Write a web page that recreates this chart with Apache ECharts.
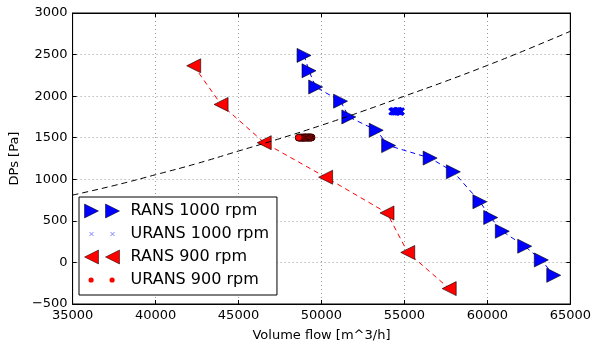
<!DOCTYPE html>
<html>
<head>
<meta charset="utf-8">
<script src="https://cdn.jsdelivr.net/npm/echarts@6/dist/echarts.min.js"></script>
<style>html,body{margin:0;padding:0;background:#fff}#c{width:594px;height:347px}</style>
</head>
<body>
<div id="c"></div>
<script>
// ---- data ----
var xTicks = [35000, 40000, 45000, 50000, 55000, 60000, 65000];
var yTicks = [-500, 0, 500, 1000, 1500, 2000, 2500, 3000];

var seriesNames = ['RANS 1000 rpm', 'URANS 1000 rpm', 'RANS 900 rpm', 'URANS 900 rpm'];

var rans1000Flow = [48950, 49250, 49650, 51150, 51650, 53300, 54050, 56550, 57950, 59550, 60200, 60900, 62250, 63250, 64000];
var rans1000Dp   = [2490, 2305, 2110, 1940, 1750, 1590, 1405, 1255, 1090, 730, 540, 375, 195, 30, -155];

var urans1000Flow = [54250, 54300, 54340, 54380, 54420, 54460, 54500, 54540, 54580, 54620, 54660, 54700, 54740, 54780, 54800];
var urans1000Dp   = [1815, 1822, 1810, 1826, 1812, 1820, 1808, 1824, 1814, 1828, 1811, 1819, 1806, 1823, 1816];

var urans900Flow = [49400, 49330, 49260, 49190, 49120, 49050, 48980, 48910, 48840, 48770, 48700, 48630];
var urans900Dp   = [1503, 1500, 1506, 1499, 1504, 1501, 1505, 1498, 1503, 1500, 1502, 1501];

var rans900Flow = [42300, 43950, 46550, 50250, 53950, 55200, 57700];
var rans900Dp   = [2365, 1900, 1440, 1025, 595, 120, -315];

var systemFlow = [35000, 37500, 40000, 42500, 45000, 47500, 50000, 52500, 55000, 57500, 60000, 62500, 65000];
var systemDp   = [810, 925, 1055, 1190, 1340, 1490, 1650, 1820, 2000, 2180, 2370, 2570, 2780];

function pairs(xs, ys) { return xs.map(function (x, i) { return [x, ys[i]]; }); }
function fmt(v) { return v < 0 ? '\u2212' + Math.abs(v) : String(v); }

var FONT = 'DejaVu Sans';
var xMark = 'path://M0,0L10,10M10,0L0,10';

var chart = echarts.init(document.getElementById('c'), null, { renderer: 'canvas' });

var axisCommon = {
  type: 'value',
  axisLine: { show: true, onZero: false, lineStyle: { color: '#000', width: 1 } },
  axisTick: { show: true, inside: true, length: 4, lineStyle: { color: '#000' } },
  splitLine: { show: true, lineStyle: { color: '#9a9a9a', type: [1, 3], width: 1 } },
  axisLabel: { color: '#000', fontFamily: FONT, fontSize: 13, formatter: fmt, margin: 5 }
};
function mirrorAxis(pos, min, max, interval) {
  return { type: 'value', position: pos, min: min, max: max, interval: interval,
    axisLine: { show: true, onZero: false, lineStyle: { color: '#000' } },
    axisTick: { show: true, inside: true, length: 4, lineStyle: { color: '#000' } },
    axisLabel: { show: false }, splitLine: { show: false } };
}

var option = {
  animation: false,
  backgroundColor: '#fff',
  grid: { left: 72, right: 21, top: 13, bottom: 43, show: true, borderColor: '#000', borderWidth: 1, backgroundColor: 'transparent' },
  xAxis: [
    Object.assign({}, axisCommon, {
      min: xTicks[0], max: xTicks[xTicks.length - 1], interval: 5000,
      name: 'Volume flow [m^3/h]', nameLocation: 'middle', nameGap: 25,
      nameTextStyle: { color: '#000', fontFamily: FONT, fontSize: 13 }
    }),
    mirrorAxis('top', xTicks[0], xTicks[xTicks.length - 1], 5000)
  ],
  yAxis: [
    Object.assign({}, axisCommon, {
      min: yTicks[0], max: yTicks[yTicks.length - 1], interval: 500,
      name: 'DPs [Pa]', nameLocation: 'middle', nameGap: 51, nameRotate: 90,
      nameTextStyle: { color: '#000', fontFamily: FONT, fontSize: 13 }
    }),
    mirrorAxis('right', yTicks[0], yTicks[yTicks.length - 1], 500)
  ],
  legend: {
    orient: 'vertical',
    left: 79, top: 197,
    padding: [6, 8, 7, 5],
    itemWidth: 35, itemHeight: 14, itemGap: 7,
    backgroundColor: '#fff',
    borderColor: '#000', borderWidth: 1, borderRadius: 0,
    textStyle: { color: '#000', fontFamily: FONT, fontSize: 16, padding: [0, 0, 0, 6] },
    data: [
      { name: seriesNames[0], icon: 'path://M0,0L14,7L0,14ZM21,0L35,7L21,14Z', itemStyle: { borderWidth: 0.5 } },
      { name: seriesNames[1], icon: 'path://M0,0M35,14M5,5L9,9M9,5L5,9M26,5L30,9M30,5L26,9',
        itemStyle: { color: 'transparent', borderColor: '#8080ff', borderWidth: 1 } },
      { name: seriesNames[2], icon: 'path://M14,0L0,7L14,14ZM35,0L21,7L35,14Z', itemStyle: { borderWidth: 0.5 } },
      { name: seriesNames[3], icon: 'path://M0,0M35,14M4,7a2.6,2.6 0 1,0 5.2,0a2.6,2.6 0 1,0 -5.2,0ZM25,7a2.6,2.6 0 1,0 5.2,0a2.6,2.6 0 1,0 -5.2,0Z',
        itemStyle: { color: '#ff0000', borderWidth: 0 } }
    ]
  },
  series: [
    {
      name: seriesNames[0], type: 'line', data: pairs(rans1000Flow, rans1000Dp),
      symbol: 'triangle', symbolRotate: -90, symbolSize: 14,
      itemStyle: { color: '#0000ff', borderColor: '#000', borderWidth: 0.6 },
      lineStyle: { color: '#0000ff', width: 1, type: [5, 4] }, z: 2
    },
    {
      name: seriesNames[1], type: 'line', data: pairs(urans1000Flow, urans1000Dp),
      symbol: xMark, symbolSize: 6,
      itemStyle: { color: '#0000ff', borderColor: '#0000ff', borderWidth: 2 },
      lineStyle: { color: '#0000ff', width: 2, type: 'solid' }, z: 3
    },
    {
      name: seriesNames[2], type: 'line', data: pairs(rans900Flow, rans900Dp),
      symbol: 'triangle', symbolRotate: 90, symbolSize: 14,
      itemStyle: { color: '#ff0000', borderColor: '#000', borderWidth: 0.6 },
      lineStyle: { color: '#ff0000', width: 1, type: [5, 4] }, z: 4
    },
    {
      name: seriesNames[3], type: 'line', data: pairs(urans900Flow, urans900Dp),
      symbol: 'circle', symbolSize: 7,
      itemStyle: { color: '#ff0000', borderColor: '#2a0000', borderWidth: 1 },
      lineStyle: { color: '#3a0000', width: 1, type: 'solid' }, z: 5
    },
    {
      name: 'system', type: 'line', data: pairs(systemFlow, systemDp),
      smooth: true, showSymbol: false, symbol: 'none',
      lineStyle: { color: '#000', width: 1, type: [6, 4] }, z: 6
    }
  ]
};
chart.setOption(option);
</script>
</body>
</html>
